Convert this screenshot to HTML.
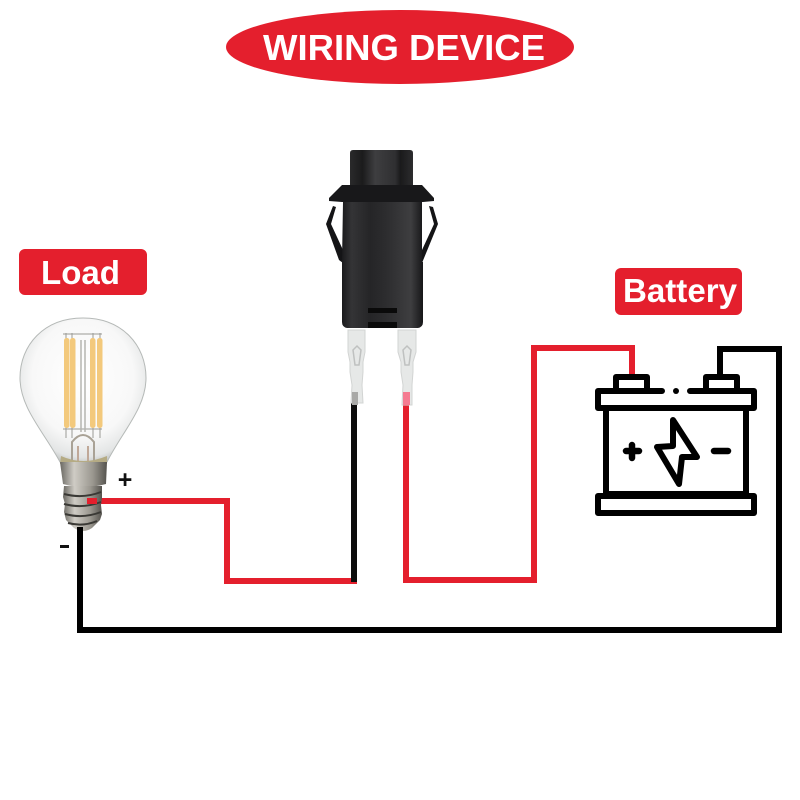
<!DOCTYPE html>
<html><head><meta charset="utf-8"><style>
html,body{margin:0;padding:0;background:#fff;width:800px;height:800px;overflow:hidden}
svg{display:block}
text{font-family:"Liberation Sans",sans-serif;font-weight:bold}
</style></head><body>
<svg width="800" height="800" viewBox="0 0 800 800" xmlns="http://www.w3.org/2000/svg">
<defs>
<linearGradient id="bd" x1="0" x2="1" y1="0" y2="0">
<stop offset="0" stop-color="#1a1a1c"/><stop offset=".12" stop-color="#343436"/><stop offset=".35" stop-color="#252527"/><stop offset=".55" stop-color="#2d2d2f"/><stop offset=".85" stop-color="#3e3e40"/><stop offset="1" stop-color="#161618"/>
</linearGradient>
<linearGradient id="tp" x1="0" x2="1" y1="0" y2="0">
<stop offset="0" stop-color="#2a2a2b"/><stop offset=".2" stop-color="#1b1b1c"/><stop offset=".4" stop-color="#3e3e40"/><stop offset=".72" stop-color="#2f2f31"/><stop offset=".8" stop-color="#1a1a1b"/><stop offset="1" stop-color="#2c2c2e"/>
</linearGradient>
<radialGradient id="gl" cx=".5" cy=".42" r=".62">
<stop offset="0" stop-color="#fff"/><stop offset=".65" stop-color="#f8f8f8"/><stop offset=".88" stop-color="#e3e5e5"/><stop offset="1" stop-color="#b5b9b8"/>
</radialGradient>
<linearGradient id="mt" x1="0" x2="1" y1="0" y2="0">
<stop offset="0" stop-color="#6a6862"/><stop offset=".3" stop-color="#cfccc5"/><stop offset=".7" stop-color="#9a978f"/><stop offset="1" stop-color="#55534e"/>
</linearGradient>
</defs>

<!-- Title -->
<ellipse cx="400" cy="47" rx="174" ry="37" fill="#e41f2d"/>
<text x="404" y="60" font-size="36.5" fill="#fff" text-anchor="middle" textLength="282" lengthAdjust="spacingAndGlyphs">WIRING DEVICE</text>

<!-- Labels -->
<rect x="19" y="249" width="128" height="46" rx="6" fill="#e41f2d"/>
<text x="80.500" y="284" font-size="33" fill="#fff" text-anchor="middle" textLength="79" lengthAdjust="spacingAndGlyphs">Load</text>
<rect x="615" y="268" width="127" height="47" rx="6" fill="#e41f2d"/>
<text x="680" y="302" font-size="33" fill="#fff" text-anchor="middle" textLength="114" lengthAdjust="spacingAndGlyphs">Battery</text>

<!-- Wires -->
<polyline points="80,528 80,630 779,630 779,349 720,349 720,376" fill="none" stroke="#000" stroke-width="6"/>
<polyline points="87,501 227,501 227,581 357,581" fill="none" stroke="#e41f2d" stroke-width="6"/>
<polyline points="406,405 406,580 534,580 534,348 632,348 632,376" fill="none" stroke="#e41f2d" stroke-width="6"/>
<rect x="351" y="403" width="6" height="179" fill="#0c0c0c"/>

<!-- Bulb -->
<path d="M83,318 C122,318 146,345 146,378 C146,408 122,432 107,462 L60,462 C44,432 20,408 20,378 C20,345 44,318 83,318Z" fill="url(#gl)" stroke="#b5b9b7" stroke-width="1"/>
<g stroke="#9a9a95" stroke-width="1" fill="none">
<path d="M63,334H102M63,429H102"/>
<path d="M66,333V438M72,333V438M93,333V438M100,333V438"/>
<path d="M81,340V432M85,340V432" stroke="#b5b5b0" stroke-width="1.500"/>
<path d="M72,462V442Q83,428 94,442V462" stroke="#a9a296" stroke-width="2"/>
<path d="M78,462V446M88,462V446" stroke="#c0a898" stroke-width="2"/>
</g>
<g fill="#f3c97c">
<rect x="64" y="338" width="5.500" height="90" rx="2.500"/>
<rect x="70" y="338" width="5.500" height="90" rx="2.500"/>
<rect x="90" y="338" width="5.500" height="90" rx="2.500"/>
<rect x="97" y="338" width="5.500" height="90" rx="2.500"/>
</g>
<path d="M61,456Q83,466 107,456L107,464H60Z" fill="#b5ab84"/>
<path d="M60,462H107L106,484Q84,490 63,484Z" fill="url(#mt)"/>
<path d="M64,486H102L102,498L101,505L102,514L100,520L92,528Q83,534 74,528L66,520L64,512L65,504L63,497Z" fill="url(#mt)"/>
<g stroke="#3a3935" stroke-width="2" fill="none">
<path d="M64,494Q83,499 101,492M64,504Q83,509 101,502M65,514Q83,519 101,512M68,523Q83,527 97,521"/>
</g>
<rect x="87" y="498" width="10" height="6" fill="#e41f2d"/>
<rect x="77" y="527" width="6" height="6" fill="#000"/>
<text x="125" y="488" font-size="25" fill="#111" text-anchor="middle">+</text>
<rect x="60" y="545" width="9" height="3" fill="#111"/>

<!-- Terminals -->
<g fill="#e6e8e7" stroke="#d2d4d3" stroke-width="1">
<path d="M348,330H365V352L363,362V372L362,385L363,403H351L352,385L350,372V362L348,352Z"/>
<path d="M398,330H416V352L413,362V372L412,385L412,405H402L403,385L401,372V362L398,352Z"/>
</g>
<g fill="none" stroke="#bfc1c0" stroke-width="1.500">
<path d="M353,350L357,346L361,350L359,365H355Z"/>
<path d="M403,350L407,346L411,350L409,365H405Z"/>
</g>
<rect x="352" y="392" width="6" height="13" fill="#a9a9a7"/>
<rect x="403" y="392" width="7" height="13" fill="#f57b91"/>

<!-- Device -->
<g fill="#141416">
<path d="M333,206L336,207L331,224L343,250V263L339,260L326,224Z"/>
<path d="M429,206L433,207L438,224L422,263V250L434,224Z"/>
</g>
<path d="M350,153Q350,150 353,150H410Q413,150 413,153V186H350Z" fill="url(#tp)"/>
<path d="M342,185H422L434,198V201L423,202H342L329,201V198Z" fill="#18181a"/>
<path d="M343,202H422V262L423,262V322Q423,327 418,328H347Q342,327 342,322V262Z" fill="url(#bd)"/>
<rect x="368" y="308" width="29" height="5" fill="#0a0a0a"/>
<rect x="368" y="322" width="29" height="6" fill="#0a0a0a"/>

<!-- Battery -->
<g fill="none" stroke="#000" stroke-width="6" stroke-linecap="round" stroke-linejoin="round">
<path d="M616,390V377H647V390"/>
<path d="M706,390V377H737V390"/>
<path d="M662,391H598V408H754V391H690"/>
<path d="M606,408V493M746,408V493"/>
<rect x="598" y="496" width="156" height="17"/>
<path d="M606,494H746"/>
<path d="M673,420L697,457L682,457L679,484L657,447L673,446Z"/>
<path d="M626,451H639M632,445V458" stroke-width="6.500"/>
<path d="M714,451H728" stroke-width="6.500"/>
</g>
<circle cx="676" cy="391" r="3" fill="#000"/>
</svg>
</body></html>
